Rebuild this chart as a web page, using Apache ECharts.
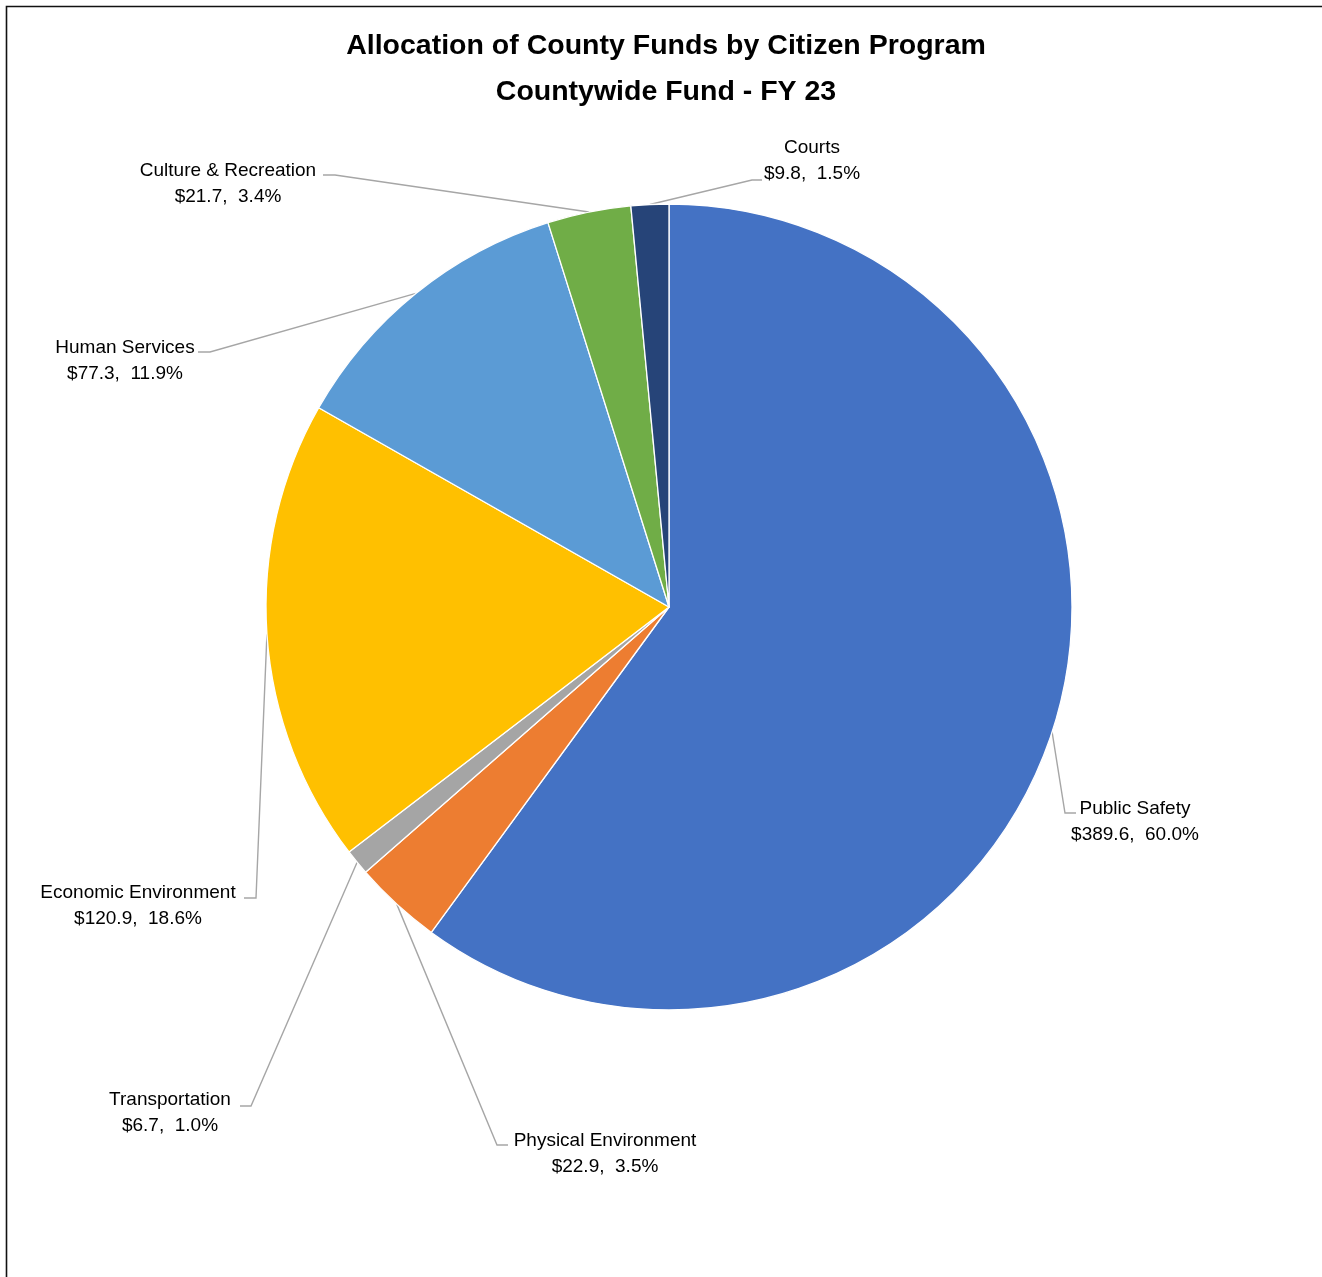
<!DOCTYPE html>
<html>
<head>
<meta charset="utf-8">
<script src="https://cdn.jsdelivr.net/npm/echarts@6/dist/echarts.min.js"></script>
<style>
html,body{margin:0;padding:0;background:#fff;}
#chart{width:1322px;height:1277px;}
</style>
</head>
<body>
<div id="chart"></div>
<script>
// ---- data ----
const categories = ['Public Safety','Physical Environment','Transportation','Economic Environment','Human Services','Culture & Recreation','Courts'];
const amounts = [389.6, 22.9, 6.7, 120.9, 77.3, 21.7, 9.8];
const percents = [60.0, 3.5, 1.0, 18.6, 11.9, 3.4, 1.5];
const colors = ['#4472C4','#ED7D31','#A5A5A5','#FFC000','#5B9BD5','#70AD47','#264478'];
const titleLines = ['Allocation of County Funds by Citizen Program','Countywide Fund - FY 23'];

// ---- label placement (layout, not data) ----
const labelPlace = {
  'Public Safety':        {x:1135, y:822,  elbow:[1065,813], end:[1076,813]},
  'Physical Environment': {x:605,  y:1154, elbow:[497,1145], end:[508,1145]},
  'Transportation':       {x:170,  y:1113, elbow:[251,1106], end:[240,1106]},
  'Economic Environment': {x:138,  y:906,  elbow:[256,898],  end:[244,898]},
  'Human Services':       {x:125,  y:361,  elbow:[210,352],  end:[198,352]},
  'Culture & Recreation': {x:228,  y:184,  elbow:[335,175],  end:[323,175]},
  'Courts':               {x:812,  y:161,  elbow:[752,180],  end:[762,180]}
};

const seriesData = categories.map((c,i)=>({name:c, value:amounts[i], itemStyle:{color:colors[i]}}));

const chart = echarts.init(document.getElementById('chart'), null, {renderer:'canvas'});
const FONT = '"Liberation Sans", Arial, sans-serif';
chart.setOption({
  backgroundColor:'#fff',
  animation:false,
  title:{
    text:titleLines.join('\n'),
    left:666,
    textAlign:'center',
    top:23,
    padding:0,
    textStyle:{fontFamily:FONT, fontWeight:'bold', fontSize:28.5, lineHeight:46, color:'#000'}
  },
  graphic:[{
    type:'rect', silent:true,
    shape:{x:6.5, y:6.5, width:1500, height:1500},
    style:{fill:null, stroke:'#111', lineWidth:1.6}
  }],
  series:[{
    type:'pie',
    center:[669,607],
    radius:403,
    startAngle:90,
    clockwise:true,
    avoidLabelOverlap:false,
    data:seriesData,
    itemStyle:{borderColor:'#fff', borderWidth:1.3},
    label:{
      show:true,
      position:'outside',
      fontFamily:FONT,
      fontSize:19,
      lineHeight:26,
      color:'#000',
      align:'center',
      formatter:function(p){
        return p.name + '\n$' + p.value.toFixed(1) + ',  ' + percents[p.dataIndex].toFixed(1) + '%';
      }
    },
    labelLine:{show:true, length:20, length2:10, smooth:false, lineStyle:{color:'#A6A6A6', width:1.4}},
    emphasis:{disabled:true},
    labelLayout:function(params){
      const name = categories[params.dataIndex];
      const pl = labelPlace[name];
      if(!pl) return {};
      const start = params.labelLinePoints ? params.labelLinePoints[0] : pl.elbow;
      return {
        x:pl.x, y:pl.y, align:'center', verticalAlign:'middle',
        labelLinePoints:[start, pl.elbow, pl.end]
      };
    }
  }]
});
</script>
</body>
</html>
